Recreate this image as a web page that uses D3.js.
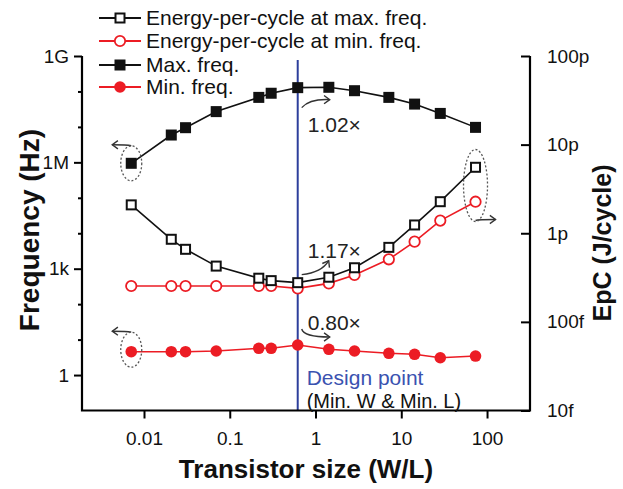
<!DOCTYPE html>
<html><head><meta charset="utf-8">
<script src="https://cdn.jsdelivr.net/npm/d3@7"></script>
<style>
html,body{margin:0;padding:0;background:#fff;}
svg{display:block;font-family:"Liberation Sans",Arial,sans-serif;}
</style></head>
<body><svg id="c" width="623" height="489"></svg>
<script>
// ---- data ----
const transistorSize = [0.0071, 0.0208, 0.0305, 0.0695, 0.218, 0.304, 0.62, 1.43, 2.85, 7.16, 14.3, 28.5, 73.4];
const maxFreq = [9.4e5, 5.9e6, 9.5e6, 2.7e7, 6.8e7, 8.9e7, 1.28e8, 1.31e8, 1.05e8, 6.8e7, 4.4e7, 2.4e7, 9.7e6];
const minFreq = [4.56, 4.56, 4.56, 4.77, 5.69, 5.69, 7.05, 5.32, 4.77, 4.11, 3.85, 3.08, 3.44];
const epcAtMaxFreq = [2.09e-12, 8.55e-13, 6.59e-13, 4.26e-13, 3.11e-13, 2.92e-13, 2.77e-13, 3.19e-13, 4.08e-13, 6.93e-13, 1.24e-12, 2.27e-12, 5.55e-12];
const epcAtMinFreq = [2.54e-13, 2.54e-13, 2.54e-13, 2.54e-13, 2.54e-13, 2.54e-13, 2.39e-13, 2.72e-13, 3.38e-13, 5.08e-13, 8.04e-13, 1.39e-12, 2.27e-12];
const designPoint = 0.62;
const xTicks = [0.01, 0.1, 1, 10, 100];
const xTickLabels = ["0.01", "0.1", "1", "10", "100"];
const freqTicks = [1, 10, 100, 1e3, 1e4, 1e5, 1e6, 1e7, 1e8, 1e9];
const freqTickLabels = {1: "1", 1000: "1k", 1000000: "1M", 1000000000: "1G"};
const epcTicks = [1e-14, 1e-13, 1e-12, 1e-11, 1e-10];
const epcTickLabels = ["10f", "100f", "1p", "10p", "100p"];
const legendLabels = ["Energy-per-cycle at max. freq.", "Energy-per-cycle at min. freq.", "Max. freq.", "Min. freq."];
const ratioLabels = ["1.02\u00d7", "1.17\u00d7", "0.80\u00d7"];

// ---- layout ----
const L = 82, R = 530, T = 56, B = 410.5;
const RED = "#ec1c24", BLUE = "#2d3f9c";
const svg = d3.select("#c");
const x = d3.scaleLog().domain([Math.pow(10, -2.723), Math.pow(10, 2.501)]).range([L, R]);
const yF = d3.scaleLog().domain([0.1, 1e9]).range([B, T]);
const yE = d3.scaleLog().domain([1e-14, 1e-10]).range([B, T]);

// design point line
svg.append("line").attr("x1", x(designPoint)).attr("x2", x(designPoint))
  .attr("y1", 60).attr("y2", B).attr("stroke", BLUE).attr("stroke-width", 2);

// axes
const axisStyle = g => {
  g.select(".domain").remove();
  g.selectAll("line").attr("stroke", "#000").attr("stroke-width", 2);
  g.selectAll("text").attr("font-size", 19).attr("fill", "#111").attr("font-family", "Liberation Sans, Arial, sans-serif");
};
svg.append("g").attr("transform", `translate(${L},0)`)
  .call(d3.axisLeft(yF).tickValues(freqTicks.filter(v => freqTickLabels[v])).tickFormat(v => freqTickLabels[v]).tickSize(8).tickPadding(5))
  .call(axisStyle);
svg.append("g").attr("transform", `translate(${L},0)`)
  .call(d3.axisLeft(yF).tickValues(freqTicks.filter(v => !freqTickLabels[v])).tickFormat("").tickSize(4))
  .call(axisStyle);
svg.append("g").attr("transform", `translate(${R},0)`)
  .call(d3.axisRight(yE).tickValues(epcTicks).tickFormat((d, i) => epcTickLabels[i]).tickSize(-9).tickPadding(17))
  .call(axisStyle);
svg.append("g").attr("transform", `translate(0,${B})`)
  .call(d3.axisBottom(x).tickValues(xTicks).tickFormat((d, i) => xTickLabels[i]).tickSize(8).tickPadding(13))
  .call(axisStyle);
svg.append("path").attr("d", `M${L},${T}V${B}H${R}V${T}`).attr("fill", "none").attr("stroke", "#000").attr("stroke-width", 2.2);

// series
const line = (ys, scale) => d3.line().x((d, i) => x(transistorSize[i])).y(d => scale(d))(ys);
function drawSeries(vals, scale, color, marker, filled) {
  svg.append("path").attr("d", line(vals, scale)).attr("fill", "none").attr("stroke", color).attr("stroke-width", 1.6);
  const g = svg.append("g");
  vals.forEach((v, i) => drawMarker(g, x(transistorSize[i]), scale(v), color, marker, filled));
}
function drawMarker(g, cx, cy, color, marker, filled) {
  if (marker === "square") {
    const s = filled ? 11 : 9;
    g.append("rect").attr("x", cx - s / 2).attr("y", cy - s / 2).attr("width", s).attr("height", s)
      .attr("fill", filled ? color : "#fff").attr("stroke", color).attr("stroke-width", filled ? 0 : 2);
  } else {
    g.append("circle").attr("cx", cx).attr("cy", cy).attr("r", filled ? 5.8 : 5.2)
      .attr("fill", filled ? color : "#fff").attr("stroke", color).attr("stroke-width", filled ? 0 : 1.8);
  }
}
drawSeries(epcAtMinFreq, yE, RED, "circle", false);
drawSeries(epcAtMaxFreq, yE, "#111", "square", false);
drawSeries(minFreq, yF, RED, "circle", true);
drawSeries(maxFreq, yF, "#111", "square", true);

// legend
const legend = [
  {c: "#111", m: "square", f: false, y: 18},
  {c: RED, m: "circle", f: false, y: 41},
  {c: "#111", m: "square", f: true, y: 65},
  {c: RED, m: "circle", f: true, y: 87}
];
legend.forEach((d, i) => {
  svg.append("line").attr("x1", 99).attr("x2", 141).attr("y1", d.y).attr("y2", d.y).attr("stroke", d.c).attr("stroke-width", 2);
  drawMarker(svg, 120, d.y, d.c, d.m, d.f);
  svg.append("text").attr("x", 146).attr("y", d.y + 7).attr("font-size", 21).attr("fill", "#111").text(legendLabels[i]);
});

// axis titles
svg.append("text").attr("transform", `translate(39,230) rotate(-90)`).attr("text-anchor", "middle")
  .attr("font-size", 28).attr("font-weight", "bold").attr("fill", "#111").text("Frequency (Hz)");
svg.append("text").attr("transform", `translate(611,243) rotate(-90)`).attr("text-anchor", "middle")
  .attr("font-size", 25).attr("font-weight", "bold").attr("fill", "#111").text("EpC (J/cycle)");
svg.append("text").attr("x", 306).attr("y", 478).attr("text-anchor", "middle")
  .attr("font-size", 26).attr("font-weight", "bold").attr("fill", "#111").text("Transistor size (W/L)");

// design point text
const dx = x(designPoint);
svg.append("text").attr("x", dx + 9).attr("y", 385).attr("font-size", 21).attr("fill", "#3a52b0").text("Design point");
svg.append("text").attr("x", dx + 9).attr("y", 408).attr("font-size", 20).attr("fill", "#111").text("(Min. W & Min. L)");

// annotations
const ann = svg.append("g").attr("fill", "none").attr("stroke", "#333").attr("stroke-width", 1.4);
function arrowHead(px, py, ang) {
  const a1 = ang + Math.PI * 0.8, a2 = ang - Math.PI * 0.8, s = 7;
  ann.append("path").attr("d", `M${px + s * Math.cos(a1)},${py + s * Math.sin(a1)}L${px},${py}L${px + s * Math.cos(a2)},${py + s * Math.sin(a2)}`);
}
const i0 = transistorSize.indexOf(designPoint);
let py = yF(maxFreq[i0]);
ann.append("path").attr("d", `M${dx + 4},${py + 20}Q${dx + 12},${py + 11} ${dx + 32},${py + 12}`);
arrowHead(dx + 32, py + 12, 0);
py = yE(epcAtMaxFreq[i0]);
ann.append("path").attr("d", `M${dx + 4},${py - 8}Q${dx + 24},${py - 10} ${dx + 31},${py - 22}`);
arrowHead(dx + 31, py - 22, -Math.PI / 3);
py = yF(minFreq[i0]);
ann.append("path").attr("d", `M${dx + 4},${py - 16}Q${dx + 6},${py - 8} ${dx + 32},${py - 8}`);
arrowHead(dx + 32, py - 8, 0);
const annText = svg.append("g").attr("font-size", 21).attr("fill", "#222");
annText.append("text").attr("x", dx + 10).attr("y", yF(maxFreq[i0]) + 44).text(ratioLabels[0]);
annText.append("text").attr("x", dx + 10).attr("y", yE(epcAtMaxFreq[i0]) - 25).text(ratioLabels[1]);
annText.append("text").attr("x", dx + 10).attr("y", yF(minFreq[i0]) - 15).text(ratioLabels[2]);

// dashed ellipses
const ell = svg.append("g").attr("fill", "none").attr("stroke", "#555").attr("stroke-width", 1.3).attr("stroke-dasharray", "2,2");
const x0 = x(transistorSize[0]);
ell.append("ellipse").attr("cx", x0).attr("cy", yF(maxFreq[0])).attr("rx", 10.5).attr("ry", 17.5);
ell.append("ellipse").attr("cx", x0).attr("cy", yF(minFreq[0]) - 2).attr("rx", 10.5).attr("ry", 17.5);
const xn = x(transistorSize[transistorSize.length - 1]);
const eTop = yE(epcAtMaxFreq[epcAtMaxFreq.length - 1]), eBot = yE(epcAtMinFreq[epcAtMinFreq.length - 1]);
ell.append("ellipse").attr("cx", xn).attr("cy", (eTop + eBot) / 2 + 1).attr("rx", 12).attr("ry", 36);
[[x0, yF(maxFreq[0]) - 17.5], [x0, yF(minFreq[0]) - 19.5]].forEach(([ax, ay]) => {
  ann.append("path").attr("d", `M${ax},${ay}Q${ax - 4},${ay - 1} ${ax - 19},${ay - 1}`);
  arrowHead(ax - 19, ay - 1, Math.PI);
});
const ry0 = (eTop + eBot) / 2 + 36;
ann.append("path").attr("d", `M${xn},${ry0}Q${xn + 3},${ry0 - 1} ${xn + 20},${ry0 - 1}`);
arrowHead(xn + 20, ry0 - 1, 0);
</script></body></html>
